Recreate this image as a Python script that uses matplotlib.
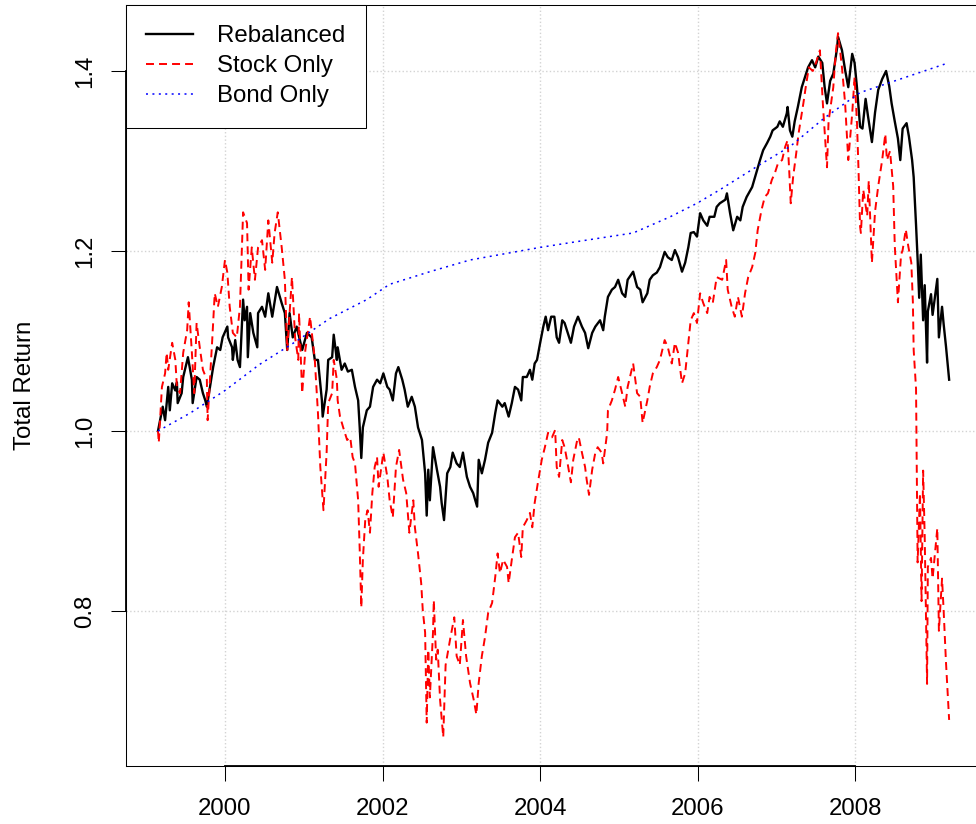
import matplotlib.pyplot as plt

# values (decimal year, total return)
reb_t = [1999.15, 1999.21, 1999.24, 1999.28, 1999.30, 1999.33, 1999.37, 1999.39, 1999.40, 1999.45,
         1999.47, 1999.53, 1999.58, 1999.59, 1999.64, 1999.68, 1999.72, 1999.75, 1999.77, 1999.81,
         1999.85, 1999.90, 1999.94, 1999.97, 2000.03, 2000.04, 2000.09, 2000.10, 2000.13, 2000.16,
         2000.19, 2000.23, 2000.25, 2000.28, 2000.29, 2000.32, 2000.36, 2000.41, 2000.42, 2000.47,
         2000.51, 2000.55, 2000.60, 2000.66, 2000.72, 2000.76, 2000.79, 2000.82, 2000.86, 2000.91,
         2000.98, 2001.04, 2001.10, 2001.14, 2001.18, 2001.23, 2001.24, 2001.29, 2001.31, 2001.36,
         2001.38, 2001.42, 2001.43, 2001.48, 2001.52, 2001.56, 2001.61, 2001.65, 2001.69, 2001.71,
         2001.73, 2001.75, 2001.80, 2001.84, 2001.88, 2001.93, 2001.97, 2002.01, 2002.06, 2002.09,
         2002.13, 2002.17, 2002.20, 2002.25, 2002.28, 2002.32, 2002.37, 2002.41, 2002.45, 2002.50,
         2002.54, 2002.56, 2002.58, 2002.60, 2002.64, 2002.69, 2002.73, 2002.75, 2002.78, 2002.82,
         2002.86, 2002.89, 2002.94, 2002.98, 2003.02, 2003.07, 2003.11, 2003.15, 2003.20, 2003.22,
         2003.26, 2003.30, 2003.34, 2003.39, 2003.43, 2003.46, 2003.52, 2003.55, 2003.60, 2003.64,
         2003.68, 2003.72, 2003.76, 2003.78, 2003.83, 2003.87, 2003.90, 2003.93, 2003.96, 2004.00,
         2004.04, 2004.07, 2004.10, 2004.14, 2004.18, 2004.21, 2004.24, 2004.28, 2004.31, 2004.35,
         2004.39, 2004.43, 2004.48, 2004.53, 2004.57, 2004.61, 2004.66, 2004.70, 2004.76, 2004.80,
         2004.82, 2004.86, 2004.91, 2004.95, 2004.99, 2005.04, 2005.08, 2005.11, 2005.18, 2005.23,
         2005.27, 2005.30, 2005.36, 2005.39, 2005.43, 2005.48, 2005.52, 2005.58, 2005.62, 2005.67,
         2005.71, 2005.75, 2005.80, 2005.84, 2005.88, 2005.91, 2005.95, 2005.99, 2006.03, 2006.07,
         2006.12, 2006.15, 2006.21, 2006.24, 2006.28, 2006.35, 2006.37, 2006.41, 2006.45, 2006.50,
         2006.54, 2006.57, 2006.62, 2006.69, 2006.75, 2006.79, 2006.83, 2006.88, 2006.92, 2006.95,
         2007.01, 2007.04, 2007.08, 2007.13, 2007.14, 2007.17, 2007.20, 2007.23, 2007.27, 2007.32,
         2007.36, 2007.40, 2007.45, 2007.49, 2007.53, 2007.58, 2007.61, 2007.64, 2007.68, 2007.72,
         2007.77, 2007.78, 2007.83, 2007.87, 2007.91, 2007.96, 2007.99, 2008.02, 2008.06, 2008.09,
         2008.13, 2008.16, 2008.21, 2008.25, 2008.29, 2008.34, 2008.39, 2008.43, 2008.46, 2008.50,
         2008.54, 2008.57, 2008.60, 2008.65, 2008.68, 2008.72, 2008.74, 2008.77, 2008.79, 2008.81,
         2008.83, 2008.86, 2008.88, 2008.91, 2008.92, 2008.96, 2008.98, 2009.04, 2009.06, 2009.10,
         2009.12, 2009.15, 2009.19]
reb_v = [1.000, 1.027, 1.012, 1.049, 1.023, 1.053, 1.045, 1.054, 1.031, 1.042,
         1.060, 1.082, 1.057, 1.031, 1.060, 1.057, 1.042, 1.034, 1.027, 1.049,
         1.071, 1.093, 1.090, 1.104, 1.116, 1.104, 1.093, 1.079, 1.101, 1.079,
         1.071, 1.146, 1.123, 1.138, 1.082, 1.131, 1.109, 1.093, 1.131, 1.138,
         1.127, 1.153, 1.127, 1.160, 1.142, 1.131, 1.090, 1.131, 1.104, 1.116,
         1.090, 1.109, 1.104, 1.079, 1.079, 1.034, 1.016, 1.046, 1.079, 1.082,
         1.107, 1.079, 1.093, 1.068, 1.075, 1.066, 1.068, 1.049, 1.034, 1.004,
         0.970, 1.004, 1.023, 1.027, 1.049, 1.057, 1.053, 1.064, 1.049, 1.046,
         1.034, 1.064, 1.071, 1.057, 1.046, 1.027, 1.038, 1.027, 1.004, 0.990,
         0.953, 0.906, 0.957, 0.923, 0.982, 0.957, 0.938, 0.920, 0.901, 0.953,
         0.960, 0.976, 0.964, 0.960, 0.976, 0.949, 0.938, 0.931, 0.916, 0.968,
         0.953, 0.968, 0.987, 0.998, 1.020, 1.034, 1.027, 1.031, 1.016, 1.031,
         1.049, 1.046, 1.034, 1.060, 1.060, 1.068, 1.057, 1.075, 1.079, 1.098,
         1.116, 1.127, 1.112, 1.127, 1.127, 1.104, 1.098, 1.123, 1.120, 1.109,
         1.098, 1.116, 1.127, 1.116, 1.109, 1.092, 1.109, 1.116, 1.123, 1.112,
         1.127, 1.149, 1.157, 1.160, 1.168, 1.153, 1.149, 1.168, 1.177, 1.160,
         1.157, 1.143, 1.153, 1.168, 1.173, 1.176, 1.182, 1.199, 1.193, 1.190,
         1.201, 1.193, 1.177, 1.187, 1.204, 1.220, 1.221, 1.216, 1.242, 1.234,
         1.228, 1.238, 1.238, 1.249, 1.253, 1.257, 1.264, 1.242, 1.223, 1.238,
         1.234, 1.249, 1.260, 1.271, 1.289, 1.301, 1.312, 1.320, 1.327, 1.334,
         1.338, 1.344, 1.338, 1.353, 1.360, 1.334, 1.327, 1.344, 1.360, 1.382,
         1.393, 1.404, 1.412, 1.404, 1.416, 1.409, 1.382, 1.364, 1.389, 1.397,
         1.427, 1.438, 1.423, 1.401, 1.382, 1.419, 1.409, 1.382, 1.338, 1.336,
         1.369, 1.350, 1.321, 1.354, 1.379, 1.391, 1.400, 1.383, 1.364, 1.344,
         1.325, 1.301, 1.336, 1.342, 1.327, 1.301, 1.282, 1.229, 1.191, 1.148,
         1.196, 1.123, 1.162, 1.076, 1.133, 1.152, 1.129, 1.169, 1.104, 1.138,
         1.119, 1.094, 1.057]

stk_t = [1999.15, 1999.16, 1999.20, 1999.24, 1999.26, 1999.28, 1999.33, 1999.37, 1999.39, 1999.43,
         1999.47, 1999.52, 1999.54, 1999.58, 1999.61, 1999.64, 1999.68, 1999.72, 1999.77, 1999.78,
         1999.84, 1999.87, 1999.91, 1999.96, 2000.00, 2000.03, 2000.06, 2000.10, 2000.15, 2000.19,
         2000.23, 2000.28, 2000.30, 2000.34, 2000.38, 2000.42, 2000.47, 2000.51, 2000.55, 2000.60,
         2000.63, 2000.67, 2000.72, 2000.76, 2000.79, 2000.85, 2000.89, 2000.93, 2000.94, 2000.98,
         2001.02, 2001.08, 2001.14, 2001.18, 2001.21, 2001.24, 2001.25, 2001.29, 2001.31, 2001.36,
         2001.38, 2001.42, 2001.43, 2001.46, 2001.50, 2001.55, 2001.59, 2001.62, 2001.65, 2001.69,
         2001.71, 2001.73, 2001.75, 2001.78, 2001.81, 2001.84, 2001.87, 2001.90, 2001.93, 2001.95,
         2002.01, 2002.06, 2002.09, 2002.13, 2002.17, 2002.21, 2002.26, 2002.30, 2002.34, 2002.39,
         2002.41, 2002.45, 2002.49, 2002.51, 2002.54, 2002.56, 2002.58, 2002.60, 2002.64, 2002.65,
         2002.68, 2002.70, 2002.73, 2002.77, 2002.80, 2002.86, 2002.91, 2002.94, 2002.98, 2003.02,
         2003.06, 2003.11, 2003.16, 2003.19, 2003.22, 2003.26, 2003.30, 2003.34, 2003.39, 2003.43,
         2003.46, 2003.49, 2003.53, 2003.58, 2003.60, 2003.64, 2003.68, 2003.72, 2003.76, 2003.78,
         2003.83, 2003.87, 2003.90, 2003.93, 2003.97, 2004.02, 2004.06, 2004.10, 2004.15, 2004.19,
         2004.21, 2004.24, 2004.28, 2004.31, 2004.34, 2004.39, 2004.42, 2004.47, 2004.49, 2004.53,
         2004.57, 2004.59, 2004.62, 2004.66, 2004.70, 2004.73, 2004.78, 2004.80, 2004.85, 2004.86,
         2004.91, 2004.95, 2004.99, 2005.04, 2005.08, 2005.11, 2005.18, 2005.23, 2005.27, 2005.30,
         2005.36, 2005.39, 2005.43, 2005.48, 2005.52, 2005.58, 2005.62, 2005.67, 2005.71, 2005.75,
         2005.80, 2005.84, 2005.88, 2005.91, 2005.95, 2005.99, 2006.03, 2006.07, 2006.12, 2006.15,
         2006.19, 2006.24, 2006.31, 2006.36, 2006.38, 2006.43, 2006.47, 2006.51, 2006.56, 2006.60,
         2006.64, 2006.69, 2006.73, 2006.76, 2006.81, 2006.85, 2006.89, 2006.94, 2006.98, 2007.02,
         2007.07, 2007.11, 2007.14, 2007.16, 2007.18, 2007.21, 2007.25, 2007.28, 2007.34, 2007.37,
         2007.41, 2007.46, 2007.50, 2007.55, 2007.59, 2007.64, 2007.66, 2007.72, 2007.75, 2007.78,
         2007.83, 2007.87, 2007.91, 2007.96, 2007.99, 2008.02, 2008.04, 2008.06, 2008.07, 2008.10,
         2008.15, 2008.17, 2008.21, 2008.25, 2008.29, 2008.34, 2008.38, 2008.40, 2008.44, 2008.48,
         2008.50, 2008.54, 2008.58, 2008.60, 2008.64, 2008.67, 2008.71, 2008.73, 2008.74, 2008.77,
         2008.78, 2008.79, 2008.82, 2008.84, 2008.86, 2008.88, 2008.91, 2008.92, 2008.96, 2008.98,
         2009.04, 2009.06, 2009.10, 2009.12, 2009.15, 2009.19]
stk_v = [1.000, 0.987, 1.049, 1.064, 1.087, 1.068, 1.098, 1.079, 1.049, 1.042,
         1.087, 1.112, 1.143, 1.087, 1.042, 1.120, 1.093, 1.068, 1.057, 1.012,
         1.104, 1.153, 1.138, 1.160, 1.190, 1.176, 1.138, 1.109, 1.104, 1.138,
         1.243, 1.231, 1.157, 1.204, 1.168, 1.204, 1.212, 1.179, 1.234, 1.187,
         1.220, 1.243, 1.204, 1.168, 1.090, 1.171, 1.104, 1.079, 1.131, 1.042,
         1.090, 1.127, 1.079, 1.020, 0.960, 0.923, 0.912, 0.976, 1.031, 1.042,
         1.079, 1.057, 1.034, 1.016, 1.004, 0.990, 0.993, 0.971, 0.964, 0.923,
         0.868, 0.804, 0.857, 0.901, 0.912, 0.887, 0.931, 0.960, 0.971, 0.938,
         0.976, 0.949, 0.923, 0.904, 0.960, 0.979, 0.946, 0.931, 0.887, 0.923,
         0.893, 0.864, 0.831, 0.801, 0.776, 0.676, 0.757, 0.704, 0.776, 0.812,
         0.746, 0.757, 0.701, 0.660, 0.740, 0.770, 0.793, 0.750, 0.740, 0.790,
         0.750, 0.720, 0.700, 0.685, 0.720, 0.750, 0.771, 0.798, 0.809, 0.838,
         0.864, 0.842, 0.857, 0.849, 0.831, 0.857, 0.882, 0.887, 0.860, 0.893,
         0.901, 0.909, 0.893, 0.920, 0.942, 0.968, 0.982, 0.998, 0.993, 1.001,
         0.960, 0.949, 0.990, 0.982, 0.968, 0.943, 0.968, 0.990, 0.993, 0.976,
         0.960, 0.946, 0.929, 0.957, 0.976, 0.982, 0.976, 0.964, 0.998, 1.023,
         1.034, 1.046, 1.060, 1.042, 1.027, 1.049, 1.075, 1.042, 1.038, 1.009,
         1.034, 1.049, 1.064, 1.071, 1.079, 1.101, 1.093, 1.075, 1.098, 1.087,
         1.053, 1.064, 1.098, 1.123, 1.131, 1.120, 1.153, 1.142, 1.131, 1.149,
         1.142, 1.171, 1.168, 1.190, 1.157, 1.138, 1.127, 1.149, 1.127, 1.153,
         1.171, 1.182, 1.198, 1.223, 1.246, 1.260, 1.264, 1.279, 1.287, 1.298,
         1.301, 1.316, 1.323, 1.290, 1.253, 1.282, 1.309, 1.331, 1.364, 1.382,
         1.404, 1.400, 1.409, 1.423, 1.360, 1.293, 1.344, 1.382, 1.419, 1.442,
         1.404, 1.364, 1.301, 1.353, 1.393, 1.344, 1.290, 1.227, 1.220, 1.268,
         1.239, 1.278, 1.187, 1.244, 1.272, 1.301, 1.330, 1.301, 1.311, 1.272,
         1.206, 1.143, 1.196, 1.201, 1.224, 1.206, 1.187, 1.143, 1.090, 1.047,
         0.956, 0.854, 0.931, 0.811, 0.956, 0.883, 0.719, 0.849, 0.859, 0.836,
         0.892, 0.778, 0.836, 0.801, 0.743, 0.679]

bnd_t = [1999.15, 1999.56, 2000.00, 2000.44, 2000.91, 2001.33, 2001.80, 2002.09, 2002.60, 2003.11,
         2004.00, 2004.51, 2005.18, 2005.65, 2005.99, 2006.28, 2006.79, 2007.17, 2007.61, 2008.06,
         2009.18]
bnd_v = [1.000, 1.020, 1.045, 1.074, 1.100, 1.125, 1.146, 1.163, 1.177, 1.190,
         1.204, 1.211, 1.220, 1.238, 1.253, 1.268, 1.296, 1.316, 1.348, 1.376,
         1.409]

year_ticks = [2000, 2002, 2004, 2006, 2008]
ret_ticks = [0.8, 1.0, 1.2, 1.4]
ret_labels = ['0.8', '1.0', '1.2', '1.4']

plt.rcParams['font.family'] = ['Liberation Sans', 'DejaVu Sans']

fig = plt.figure(figsize=(9.76, 8.24), dpi=100)
ax = fig.add_axes([126/976, 1-766/824, 853/976, 761/824])

ax.plot(reb_t, reb_v, color='black', lw=1.7, label='Rebalanced')
ax.plot(stk_t, stk_v, color='red', lw=1.4, dashes=(4.1, 2.6), label='Stock Only')
ax.plot(bnd_t, bnd_v, color='blue', lw=1.1, dashes=(1.3, 2.9), label='Bond Only')

ax.set_xlim(1998.744, 2009.569)
ax.set_ylim(0.6278, 1.4733)
ax.set_xticks(year_ticks)
ax.set_xticklabels([str(y) for y in year_ticks])
ax.set_yticks(ret_ticks)
ax.set_yticklabels(ret_labels)
for lab in ax.get_yticklabels():
    lab.set_rotation(90)
    lab.set_va('center')

ax.grid(True, color='lightgray', linestyle=':', lw=1)
ax.set_axisbelow(True)
ax.tick_params(length=10.8, width=0.75, labelsize=17.3, color='black')
ax.tick_params(axis='x', pad=12.5)
ax.tick_params(axis='y', pad=11)
for s in ax.spines.values():
    s.set_linewidth(0.75)

# R-style axis lines between first and last tick
ax.plot([2000, 2008], [0, 0], transform=ax.get_xaxis_transform(), color='black', lw=1.3, clip_on=False)
ax.plot([0, 0], [0.8, 1.4], transform=ax.get_yaxis_transform(), color='black', lw=1.3, clip_on=False)

leg = ax.legend(loc='upper left', bbox_to_anchor=(0, 1), borderaxespad=0, fancybox=False,
                edgecolor='black', framealpha=1, fontsize=17.3, borderpad=0.85,
                handlelength=1.95, handletextpad=1.0, labelspacing=0.33)
leg.get_frame().set_linewidth(0.75)

fig.text(25/976, 1-385.5/824, 'Total Return', rotation=90, ha='center', va='center', fontsize=17.3)

fig.savefig('out.png', dpi=100)
